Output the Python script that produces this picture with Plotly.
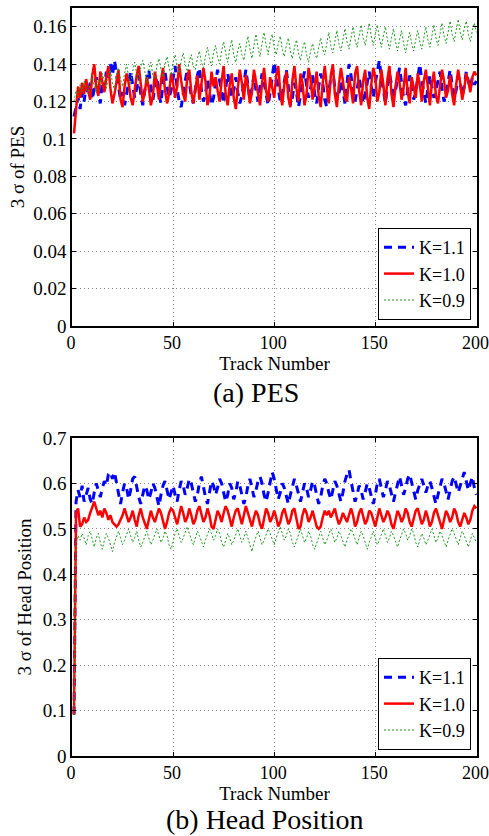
import plotly.graph_objects as go

track = list(range(1, 201))

pes_k11 = [
    0.112, 0.118, 0.122, 0.116, 0.125, 0.120, 0.128, 0.124, 0.130, 0.121, 0.127, 0.133, 0.125, 0.119, 0.131, 0.128, 0.136, 0.132, 0.140, 0.134,
    0.142, 0.136, 0.128, 0.121, 0.125, 0.118, 0.124, 0.130, 0.136, 0.129, 0.122, 0.127, 0.134, 0.124, 0.118, 0.126, 0.131, 0.137, 0.128, 0.121,
    0.127, 0.133, 0.124, 0.119, 0.130, 0.136, 0.128, 0.122, 0.126, 0.133, 0.139, 0.127, 0.120, 0.117, 0.125, 0.131, 0.137, 0.130, 0.123, 0.119,
    0.128, 0.134, 0.138, 0.126, 0.120, 0.124, 0.132, 0.126, 0.118, 0.122, 0.130, 0.137, 0.131, 0.124, 0.119, 0.127, 0.135, 0.129, 0.122, 0.126,
    0.133, 0.125, 0.119, 0.123, 0.131, 0.137, 0.129, 0.121, 0.127, 0.134, 0.126, 0.120, 0.128, 0.135, 0.130, 0.123, 0.118, 0.125, 0.133, 0.141,
    0.134, 0.126, 0.120, 0.124, 0.132, 0.137, 0.128, 0.118, 0.122, 0.130, 0.125, 0.117, 0.123, 0.131, 0.136, 0.129, 0.122, 0.127, 0.134, 0.124,
    0.119, 0.128, 0.135, 0.130, 0.121, 0.117, 0.126, 0.133, 0.137, 0.127, 0.121, 0.124, 0.131, 0.126, 0.119, 0.128, 0.140, 0.134, 0.125, 0.120,
    0.127, 0.133, 0.126, 0.119, 0.124, 0.131, 0.136, 0.128, 0.122, 0.130, 0.137, 0.142, 0.133, 0.125, 0.119, 0.128, 0.135, 0.129, 0.123, 0.126,
    0.132, 0.138, 0.130, 0.122, 0.118, 0.126, 0.134, 0.129, 0.121, 0.125, 0.133, 0.140, 0.131, 0.124, 0.119, 0.127, 0.134, 0.128, 0.122, 0.126,
    0.131, 0.136, 0.127, 0.120, 0.124, 0.131, 0.137, 0.129, 0.122, 0.126, 0.134, 0.130, 0.123, 0.128, 0.136, 0.131, 0.127, 0.133, 0.129, 0.131,
]

pes_k10 = [
    0.103, 0.118, 0.128, 0.122, 0.130, 0.124, 0.132, 0.126, 0.121, 0.134, 0.140, 0.128, 0.123, 0.136, 0.130, 0.125, 0.133, 0.139, 0.127, 0.119,
    0.124, 0.131, 0.137, 0.121, 0.117, 0.128, 0.135, 0.130, 0.122, 0.118, 0.126, 0.134, 0.139, 0.129, 0.120, 0.125, 0.133, 0.127, 0.118, 0.123,
    0.136, 0.129, 0.121, 0.131, 0.138, 0.126, 0.119, 0.124, 0.135, 0.130, 0.122, 0.128, 0.140, 0.131, 0.124, 0.120, 0.133, 0.137, 0.125, 0.119,
    0.127, 0.134, 0.121, 0.129, 0.138, 0.131, 0.118, 0.123, 0.136, 0.128, 0.133, 0.126, 0.120, 0.131, 0.139, 0.124, 0.118, 0.129, 0.135, 0.122,
    0.116, 0.127, 0.137, 0.130, 0.121, 0.134, 0.128, 0.119, 0.125, 0.137, 0.131, 0.123, 0.118, 0.130, 0.138, 0.126, 0.120, 0.133, 0.127, 0.122,
    0.134, 0.139, 0.125, 0.118, 0.129, 0.136, 0.122, 0.117, 0.131, 0.139, 0.127, 0.120, 0.135, 0.130, 0.118, 0.124, 0.138, 0.132, 0.121, 0.128,
    0.136, 0.123, 0.117, 0.130, 0.139, 0.128, 0.119, 0.134, 0.140, 0.124, 0.117, 0.129, 0.138, 0.131, 0.122, 0.120, 0.133, 0.127, 0.119, 0.135,
    0.139, 0.126, 0.118, 0.131, 0.137, 0.122, 0.116, 0.129, 0.138, 0.133, 0.120, 0.125, 0.137, 0.129, 0.118, 0.132, 0.139, 0.124, 0.117, 0.128,
    0.136, 0.130, 0.121, 0.127, 0.138, 0.125, 0.119, 0.133, 0.128, 0.122, 0.135, 0.129, 0.120, 0.131, 0.137, 0.126, 0.118, 0.130, 0.136, 0.123,
    0.119, 0.128, 0.137, 0.131, 0.122, 0.126, 0.134, 0.124, 0.118, 0.129, 0.137, 0.130, 0.121, 0.127, 0.135, 0.131, 0.125, 0.133, 0.136, 0.134,
]

pes_k09 = [
    0.120, 0.126, 0.123, 0.129, 0.125, 0.131, 0.127, 0.124, 0.130, 0.134, 0.128, 0.125, 0.132, 0.129, 0.135, 0.131, 0.127, 0.133, 0.137, 0.130,
    0.126, 0.134, 0.138, 0.132, 0.128, 0.135, 0.140, 0.133, 0.129, 0.136, 0.141, 0.135, 0.131, 0.138, 0.142, 0.136, 0.130, 0.137, 0.141, 0.134,
    0.132, 0.139, 0.143, 0.137, 0.133, 0.140, 0.144, 0.138, 0.134, 0.141, 0.145, 0.139, 0.135, 0.142, 0.146, 0.140, 0.136, 0.141, 0.145, 0.139,
    0.137, 0.143, 0.147, 0.141, 0.138, 0.144, 0.149, 0.143, 0.139, 0.146, 0.150, 0.144, 0.140, 0.147, 0.152, 0.146, 0.141, 0.148, 0.153, 0.145,
    0.141, 0.147, 0.151, 0.145, 0.142, 0.149, 0.155, 0.148, 0.143, 0.150, 0.156, 0.149, 0.144, 0.151, 0.157, 0.150, 0.145, 0.152, 0.156, 0.149,
    0.145, 0.151, 0.155, 0.148, 0.144, 0.150, 0.154, 0.147, 0.143, 0.149, 0.153, 0.146, 0.142, 0.148, 0.152, 0.145, 0.141, 0.147, 0.151, 0.146,
    0.143, 0.149, 0.154, 0.148, 0.145, 0.151, 0.157, 0.150, 0.146, 0.152, 0.158, 0.151, 0.147, 0.153, 0.159, 0.152, 0.148, 0.154, 0.160, 0.153,
    0.149, 0.155, 0.161, 0.154, 0.150, 0.156, 0.162, 0.155, 0.150, 0.156, 0.161, 0.154, 0.149, 0.155, 0.160, 0.153, 0.148, 0.154, 0.159, 0.152,
    0.147, 0.153, 0.158, 0.151, 0.146, 0.152, 0.157, 0.151, 0.147, 0.153, 0.158, 0.152, 0.148, 0.154, 0.160, 0.153, 0.149, 0.155, 0.161, 0.154,
    0.150, 0.156, 0.162, 0.155, 0.151, 0.157, 0.163, 0.156, 0.152, 0.158, 0.164, 0.157, 0.153, 0.159, 0.163, 0.156, 0.152, 0.158, 0.162, 0.157,
]

head_k11 = [
    0.092, 0.560, 0.585, 0.570, 0.595, 0.560, 0.575, 0.590, 0.565, 0.555, 0.580, 0.600, 0.585, 0.570, 0.590, 0.605, 0.595, 0.620, 0.625, 0.610,
    0.625, 0.600, 0.575, 0.555, 0.580, 0.600, 0.590, 0.565, 0.585, 0.610, 0.615, 0.590, 0.570, 0.555, 0.575, 0.595, 0.585, 0.565, 0.580, 0.600,
    0.590, 0.570, 0.550, 0.575, 0.595, 0.605, 0.585, 0.565, 0.580, 0.595, 0.575, 0.560, 0.585, 0.605, 0.595, 0.575, 0.590, 0.610, 0.600, 0.580,
    0.560, 0.575, 0.600, 0.615, 0.590, 0.570, 0.555, 0.580, 0.605, 0.595, 0.575, 0.590, 0.610, 0.600, 0.580, 0.560, 0.575, 0.600, 0.590, 0.565,
    0.580, 0.605, 0.595, 0.575, 0.555, 0.570, 0.595, 0.610, 0.590, 0.570, 0.585, 0.605, 0.615, 0.600, 0.575, 0.560, 0.580, 0.600, 0.625, 0.610,
    0.585, 0.565, 0.580, 0.600, 0.590, 0.570, 0.555, 0.575, 0.595, 0.610, 0.595, 0.575, 0.560, 0.580, 0.600, 0.590, 0.570, 0.585, 0.605, 0.595,
    0.575, 0.555, 0.570, 0.595, 0.610, 0.600, 0.580, 0.565, 0.585, 0.605, 0.595, 0.575, 0.560, 0.580, 0.605, 0.620, 0.630, 0.605, 0.580, 0.560,
    0.575, 0.595, 0.585, 0.565, 0.580, 0.600, 0.590, 0.570, 0.555, 0.575, 0.600, 0.610, 0.590, 0.570, 0.585, 0.605, 0.595, 0.575, 0.560, 0.580,
    0.600, 0.615, 0.595, 0.575, 0.590, 0.610, 0.620, 0.600, 0.580, 0.565, 0.585, 0.600, 0.610, 0.595, 0.580, 0.595, 0.605, 0.590, 0.570, 0.555,
    0.575, 0.595, 0.610, 0.600, 0.580, 0.565, 0.585, 0.605, 0.615, 0.600, 0.580, 0.595, 0.610, 0.625, 0.605, 0.585, 0.600, 0.615, 0.590, 0.575,
]

head_k10 = [
    0.090, 0.535, 0.545, 0.505, 0.510, 0.525, 0.515, 0.520, 0.535, 0.550, 0.560, 0.545, 0.530, 0.540, 0.525, 0.545, 0.535, 0.520, 0.530, 0.515,
    0.510, 0.505, 0.510, 0.520, 0.530, 0.545, 0.530, 0.515, 0.525, 0.540, 0.520, 0.505, 0.530, 0.545, 0.525, 0.510, 0.500, 0.520, 0.540, 0.525,
    0.515, 0.530, 0.545, 0.535, 0.520, 0.500, 0.515, 0.535, 0.545, 0.540, 0.525, 0.510, 0.530, 0.550, 0.535, 0.515, 0.525, 0.545, 0.530, 0.510,
    0.520, 0.540, 0.550, 0.535, 0.515, 0.525, 0.545, 0.530, 0.505, 0.500, 0.520, 0.540, 0.530, 0.515, 0.535, 0.550, 0.540, 0.520, 0.505, 0.525,
    0.540, 0.545, 0.525, 0.510, 0.530, 0.550, 0.535, 0.520, 0.505, 0.525, 0.540, 0.530, 0.510, 0.500, 0.520, 0.545, 0.535, 0.515, 0.525, 0.540,
    0.525, 0.505, 0.515, 0.535, 0.545, 0.530, 0.510, 0.520, 0.540, 0.545, 0.525, 0.500, 0.505, 0.530, 0.545, 0.535, 0.515, 0.525, 0.540, 0.520,
    0.505, 0.500, 0.505, 0.525, 0.540, 0.530, 0.540, 0.525, 0.535, 0.545, 0.525, 0.510, 0.520, 0.535, 0.525, 0.515, 0.530, 0.545, 0.530, 0.505,
    0.515, 0.535, 0.545, 0.530, 0.510, 0.520, 0.540, 0.535, 0.520, 0.505, 0.525, 0.545, 0.530, 0.515, 0.525, 0.540, 0.530, 0.510, 0.500, 0.520,
    0.540, 0.530, 0.515, 0.525, 0.545, 0.535, 0.515, 0.505, 0.525, 0.540, 0.545, 0.530, 0.510, 0.520, 0.540, 0.525, 0.505, 0.515, 0.535, 0.545,
    0.530, 0.510, 0.500, 0.520, 0.540, 0.530, 0.515, 0.525, 0.545, 0.535, 0.515, 0.505, 0.520, 0.535, 0.525, 0.510, 0.520, 0.540, 0.550, 0.545,
]

head_k09 = [
    0.090, 0.470, 0.485, 0.475, 0.490, 0.480, 0.465, 0.485, 0.495, 0.475, 0.460, 0.480, 0.490, 0.470, 0.455, 0.475, 0.490, 0.480, 0.465, 0.450,
    0.470, 0.485, 0.495, 0.480, 0.465, 0.475, 0.490, 0.500, 0.485, 0.470, 0.480, 0.495, 0.475, 0.460, 0.470, 0.485, 0.495, 0.480, 0.465, 0.475,
    0.490, 0.500, 0.485, 0.470, 0.480, 0.495, 0.485, 0.465, 0.455, 0.475, 0.490, 0.500, 0.485, 0.470, 0.480, 0.495, 0.505, 0.490, 0.475, 0.465,
    0.480, 0.495, 0.485, 0.470, 0.460, 0.475, 0.490, 0.500, 0.490, 0.475, 0.485, 0.500, 0.490, 0.470, 0.460, 0.475, 0.490, 0.480, 0.465, 0.475,
    0.490, 0.500, 0.485, 0.470, 0.480, 0.495, 0.480, 0.465, 0.450, 0.470, 0.485, 0.495, 0.480, 0.465, 0.475, 0.490, 0.500, 0.490, 0.475, 0.465,
    0.480, 0.495, 0.505, 0.490, 0.475, 0.485, 0.500, 0.490, 0.470, 0.460, 0.475, 0.490, 0.500, 0.485, 0.470, 0.480, 0.495, 0.485, 0.465, 0.455,
    0.470, 0.485, 0.495, 0.480, 0.465, 0.475, 0.490, 0.500, 0.485, 0.470, 0.480, 0.495, 0.485, 0.470, 0.460, 0.475, 0.490, 0.500, 0.490, 0.475,
    0.465, 0.480, 0.495, 0.485, 0.470, 0.455, 0.470, 0.485, 0.495, 0.480, 0.465, 0.475, 0.490, 0.500, 0.485, 0.470, 0.480, 0.495, 0.485, 0.470,
    0.460, 0.475, 0.490, 0.500, 0.490, 0.475, 0.485, 0.500, 0.490, 0.470, 0.460, 0.475, 0.490, 0.480, 0.465, 0.475, 0.490, 0.500, 0.485, 0.470,
    0.480, 0.495, 0.485, 0.470, 0.460, 0.475, 0.490, 0.500, 0.490, 0.475, 0.465, 0.480, 0.495, 0.485, 0.470, 0.460, 0.475, 0.490, 0.480, 0.470,
]

series_names = ["K=1.1", "K=1.0", "K=0.9"]
x_ticks = [0, 50, 100, 150, 200]
pes_ticks = [0, 0.02, 0.04, 0.06, 0.08, 0.1, 0.12, 0.14, 0.16]
pes_tick_text = ["0", "0.02", "0.04", "0.06", "0.08", "0.1", "0.12", "0.14", "0.16"]
head_ticks = [0, 0.1, 0.2, 0.3, 0.4, 0.5, 0.6, 0.7]
head_tick_text = ["0", "0.1", "0.2", "0.3", "0.4", "0.5", "0.6", "0.7"]

FONT = "Liberation Serif"
# the page body margin is removed (post_script below), so the figure fills the window
W, H = 489, 836


def px(xp):
    return xp / W


def py(yp):
    return 1 - yp / H


styles = [
    dict(color="#0000ff", width=3, dash="8px,6px"),
    dict(color="#ff0000", width=2.5, dash="solid"),
    dict(color="#1f9a1f", width=1, dash="2px,2px"),
]

fig = go.Figure()
for name, ys, st in zip(series_names, [pes_k11, pes_k10, pes_k09], styles):
    fig.add_trace(go.Scatter(x=track, y=ys, mode="lines", name=name, line=st,
                             xaxis="x", yaxis="y", legend="legend"))
for name, ys, st in zip(series_names, [head_k11, head_k10, head_k09], styles):
    fig.add_trace(go.Scatter(x=track, y=ys, mode="lines", name=name, line=st,
                             xaxis="x2", yaxis="y2", legend="legend2"))

x_dom = [px(72), px(477)]
top_dom = [py(326), py(8)]
bot_dom = [py(756), py(438)]

TITLE_SIZE = 19

axis_common = dict(
    showline=True, linecolor="black", linewidth=1.5, mirror="ticks",
    ticks="inside", ticklen=4, tickcolor="black", tickwidth=1,
    showgrid=True, gridcolor="#8a8a8a", gridwidth=1, griddash="1px,3px",
    zeroline=False, automargin=False, ticklabeloverflow="allow",
)
x_tickfont = dict(family=FONT, size=18, color="black")
y_tickfont = dict(family=FONT, size=19, color="black")

fig.update_layout(
    width=W, height=H,
    margin=dict(l=0, r=0, t=0, b=0),
    paper_bgcolor="white", plot_bgcolor="white",
    font=dict(family=FONT, size=17, color="black"),
    xaxis=dict(domain=x_dom, range=[0, 200.3], tickvals=x_ticks, anchor="y",
               tickfont=x_tickfont, ticklabelshift=-1,
               title=dict(text="Track Number", standoff=1, font=dict(family=FONT, size=TITLE_SIZE)),
               **axis_common),
    yaxis=dict(domain=top_dom, range=[0, 0.17], tickvals=pes_ticks, ticktext=pes_tick_text,
               anchor="x", tickfont=y_tickfont,
               title=dict(text="3 σ of PES", standoff=4, font=dict(family=FONT, size=TITLE_SIZE)),
               **axis_common),
    xaxis2=dict(domain=x_dom, range=[0, 200.3], tickvals=x_ticks, anchor="y2",
                tickfont=x_tickfont, ticklabelshift=-1,
                title=dict(text="Track Number", standoff=1, font=dict(family=FONT, size=TITLE_SIZE)),
                **axis_common),
    yaxis2=dict(domain=bot_dom, range=[0, 0.7], tickvals=head_ticks, ticktext=head_tick_text,
                anchor="x2", tickfont=y_tickfont,
                title=dict(text="3 σ of Head Position", standoff=6, font=dict(family=FONT, size=TITLE_SIZE)),
                **axis_common),
    legend=dict(x=px(471), xanchor="right", y=py(320), yanchor="bottom",
                bgcolor="white", bordercolor="black", borderwidth=1,
                font=dict(family=FONT, size=18, color="black"),
                tracegroupgap=0, itemwidth=30),
    legend2=dict(x=px(471), xanchor="right", y=py(750), yanchor="bottom",
                 bgcolor="white", bordercolor="black", borderwidth=1,
                 font=dict(family=FONT, size=18, color="black"),
                 tracegroupgap=0, itemwidth=30),
    showlegend=True,
    annotations=[
        dict(text="(a) PES", x=px(256), y=py(392), xref="paper", yref="paper",
             showarrow=False, xanchor="center", yanchor="middle",
             font=dict(family=FONT, size=28, color="black")),
        dict(text="(b) Head Position", x=px(265), y=py(819), xref="paper", yref="paper",
             showarrow=False, xanchor="center", yanchor="middle",
             font=dict(family=FONT, size=28, color="black")),
    ],
)

fig.write_html(
    "out.html",
    config={"displayModeBar": False},
    post_script="document.body.style.margin='0px';document.body.style.overflow='hidden';",
)
